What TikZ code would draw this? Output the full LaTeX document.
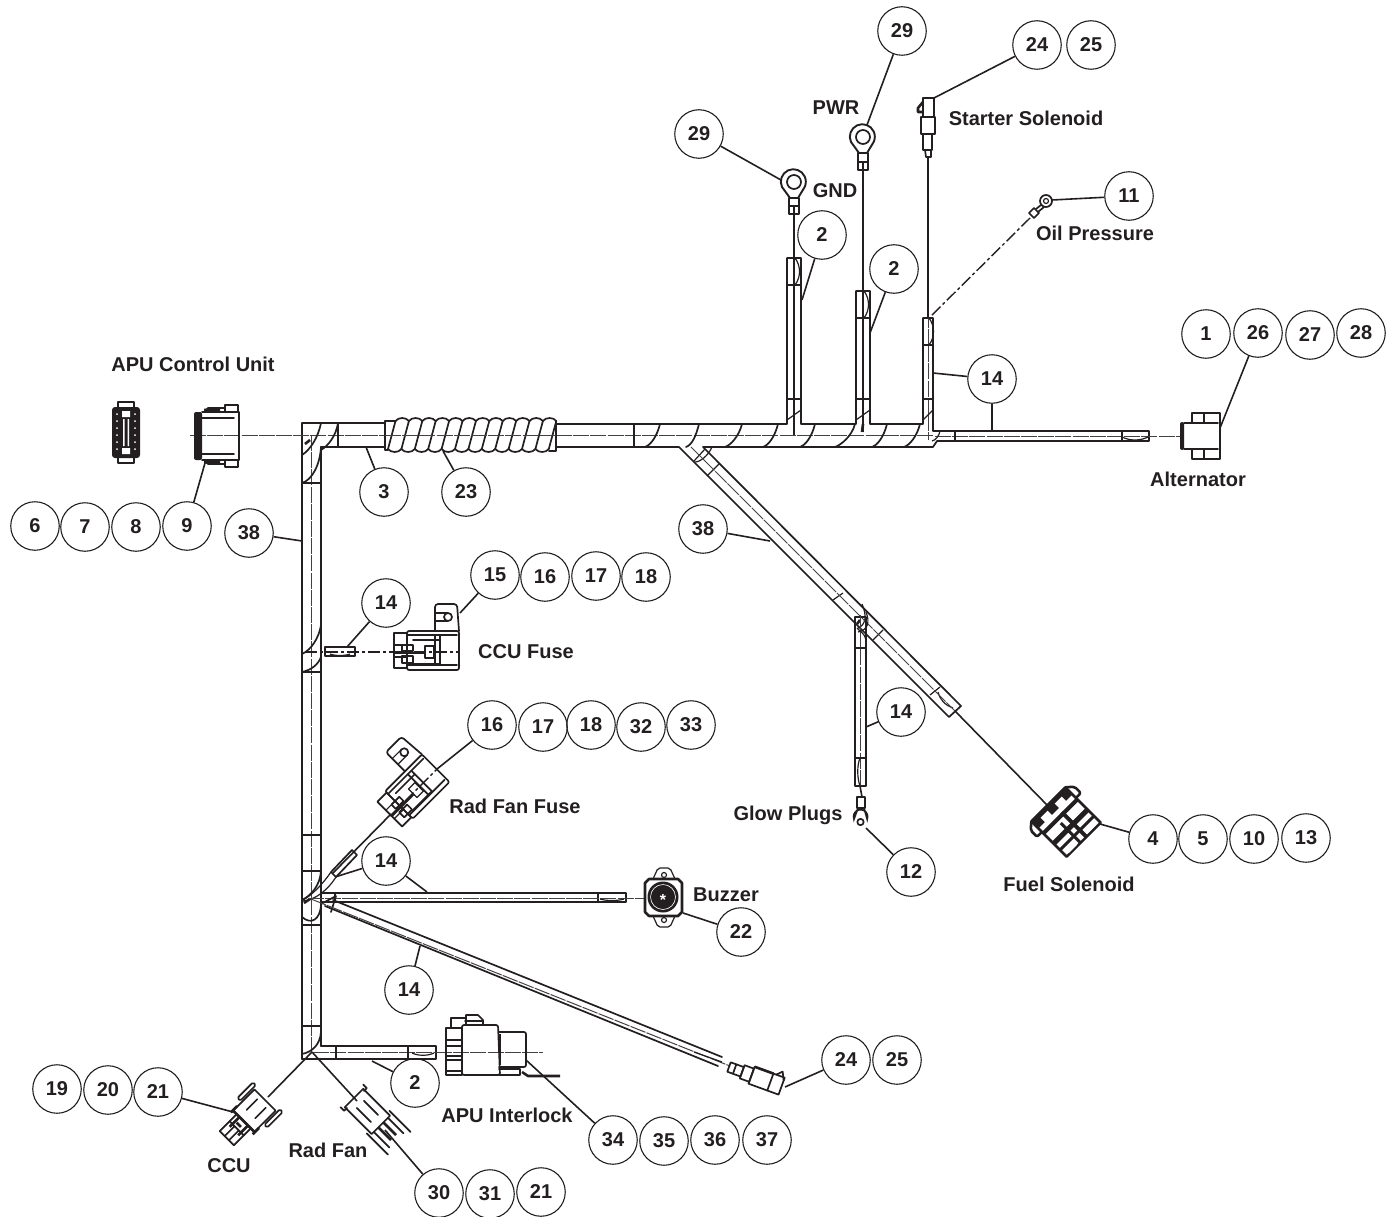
\documentclass[tikz,border=0pt]{standalone}
\usepackage{fontspec}
\setmainfont{Liberation Sans}
\definecolor{ink}{HTML}{231F20}
\tikzset{
  hw/.style={line width=1.7pt,draw=ink,line cap=round,line join=round},
  hh/.style={line width=2.6pt,draw=ink,line join=round},
  thin/.style={line width=1.2pt,draw=ink,line join=round},
  wire/.style={line width=1pt,draw=ink!85,dash pattern=on 16pt off 1.2pt},
  dashw/.style={line width=1.4pt,draw=ink,dash pattern=on 12pt off 3pt on 3pt off 3pt},
  balloon/.style={circle,draw=ink,line width=1.1pt,minimum size=48.5pt,inner sep=0pt,text=ink,font=\fontsize{20}{24}\selectfont\bfseries},
  lab/.style={text=ink,inner sep=0pt,font=\fontsize{20}{24}\selectfont\bfseries},
  lead/.style={line width=1.6pt,draw=ink},
  pics/relayshape/.style={code={
    \draw[hw,rounded corners=2pt] (0,-21) rectangle (52,18);
    \draw[hw] (0,-17) -- (50,-17) (0,13) -- (50,13);
    \draw[hw] (-13,-19) rectangle (0,16);
    \draw[thin] (-13,-7) -- (0,-7) (-13,5) -- (0,5);
    \draw[hw,rounded corners=3pt] (28,-21) -- (28,-48) -- (50,-48) -- (52,-21);
    \draw[hw] (41,-35) circle (4);
    \draw[thin] (28,-39) -- (41,-39) (28,-31) -- (41,-31);
    \draw[hw] (-5,-7) rectangle (6,-1) (-5,4) rectangle (6,11);
    \draw[hw] (6,-12) -- (33,-12) (6,12) -- (33,12);
    \draw[hh] (-13,1) -- (18,1);
    \draw[thin] (18,-6) rectangle (27,6);
    \draw[hw] (28,-17) -- (28,13) (33,-17) -- (33,13);
    \draw[dashw] (-14,0) -- (52,0);
  }}
}
\newcommand\bal[3]{\node[balloon] (#1) at (#2) {#3};}
\newcommand\ldr[2]{\coordinate (#1t) at (#2); \draw[lead] (#1) -- (#1t);}
\newcommand\txt[3]{\node[lab] (#1) at (#2) {#3};}
\begin{document}
\begin{tikzpicture}[x=1pt,y=-1pt]
\useasboundingbox (0,0) rectangle (1389,1217);
% ---- main trunk
\draw[hw] (302,1059) -- (302,423) -- (385,423);
\draw[hw] (321,1046) -- (321,447) -- (385,447);
\draw[hw] (302,1059) -- (436,1059) -- (436,1046) -- (321,1046);
\draw[hw] (556,424) -- (787,424) -- (787,258) -- (801,258) -- (801,424) -- (856,424) -- (856,291) -- (870,291) -- (870,424) -- (923,424) -- (923,318) -- (933,318) -- (933,431) -- (1149,431) -- (1149,441) -- (937,441) -- (933,447) -- (703,447) -- (961,706) -- (949,717) -- (679,447) -- (556,447);
\draw[wire] (190,435) -- (385,435);
\draw[wire] (556,435) -- (933,435);
\draw[wire] (311,435) -- (311,1052) -- (436,1052);
\draw[wire] (935,436) -- (1180,436);
\draw[lead] (794,213) -- (794,435);
\draw[lead] (863,170) -- (863,432);
\draw[wire] (928,157) -- (928,440);
\draw[line width=1.3pt,draw=ink] (928,157) -- (928,318);
\draw[hh] (305,444) -- (310,440) (860,620) -- (857,624) (304,903) -- (310,899) (863,424) -- (862,432);
% trunk ties and curves
\foreach \y in {483,672,835,871,925,1026} \draw[hw] (302,\y) -- (321,\y);
\draw[hw] (338,423) -- (338,447);
\draw[hw] (321,423) .. controls (318,438) and (310,450) .. (302,455);
\draw[hw] (338,423) .. controls (336,436) and (328,446) .. (321,450);
\draw[hw] (321,447) .. controls (320,465) and (312,480) .. (302,483);
\draw[hw] (321,625) .. controls (319,638) and (311,650) .. (302,654);
\draw[hw] (321,657) .. controls (318,665) and (311,670) .. (302,672);
\draw[hw] (321,905) .. controls (320,920) and (311,925) .. (302,917);
\draw[hw] (321,871) .. controls (320,885) and (312,895) .. (302,900);
\draw[hw] (321,1032) .. controls (320,1045) and (312,1052) .. (302,1054);
\draw[hw] (634,424) -- (634,447);
\foreach \a/\b in {660/645,699/686,742/725,778/763,815/800,855/835,887/872,920/904} \draw[hw] (\a,424) .. controls (\a-3,436) and (\b+6,445) .. (\b,447);
% branch ties
\foreach \l/\r/\t in {787/801/285,856/870/318,923/933/345} {
  \draw[thin] (\l,\t) -- (\r,\t);
  \draw[thin] (\l,399) -- (\r,399);
  \draw[thin] (\r,410) -- (\l,420);
}
\foreach \m/\t in {795/258,864/291,929/318} \draw[thin] (\m,\t) .. controls (\m+6,\t+8) and (\m+6,\t+19) .. (\m,\t+27);
\draw[thin] (955,431) -- (955,441) (1122,431) -- (1122,441);
\draw[thin] (1122,437) .. controls (1130,441) and (1140,441) .. (1148,437);
\draw[thin] (940,431) .. controls (939,436) and (936,440) .. (932,441);
% spiral wrap
\foreach \i in {0,...,12} {
  \pgfmathsetmacro\xa{388+\i*13.4}
  \pgfmathsetmacro\xb{\xa+7.5}
  \draw[hw] (\xa,449) -- (\xb,421);
}
\foreach \i in {0,...,11} {
  \pgfmathsetmacro\xa{388+\i*13.4}
  \pgfmathsetmacro\xb{\xa+7.5}
  \draw[hw] (\xb,421) .. controls (\xb+3,417) and (\xb+10.4,417) .. (\xb+13.4,421);
  \draw[hw] (\xa,449) .. controls (\xa+3,453) and (\xa+10.4,453) .. (\xa+13.4,449);
}
\draw[hw] (395.5,421) -- (385,421) -- (385,450) -- (388,450);
\draw[hw] (556,421) -- (556,451) -- (549,451);
\draw[wire] (385,435) -- (556,435);
% diagonal ties
\draw[thin] (705,449) -- (694,461) (719,464) -- (707,476);
\draw[thin] (843,593) -- (833,600) (883,630) -- (873,640) (940,687) -- (930,695);
\draw[thin] (712,447) .. controls (708,456) and (700,462) .. (695,462);
\draw[thin] (862,604) .. controls (867,615) and (866,625) .. (858,628);
\draw[thin] (938,692) .. controls (940,700) and (945,705) .. (953,708);
\draw[wire] (691,447) -- (955,711);
\draw[lead] (955,711) -- (1048,806);
% glow plug branch
\draw[hw] (855,786) rectangle (866,617);
\draw[wire] (860,615) -- (860,786);
\draw[lead] (860,786) -- (862,797);
\draw[thin] (855,648) -- (866,648) (855,758) -- (866,758);
\draw[thin] (860,758) .. controls (857,765) and (857,778) .. (860,786);
\draw[thin] (857,628) .. controls (860,632) and (864,632) .. (866,640);
\draw[thin] (866,612) .. controls (870,622) and (868,630) .. (858,632);
\draw[hw] (857,797) rectangle (865,808);
\draw[line width=1.7pt,draw=ink] (858,808) -- (854,819) arc (160:380:7) -- (864,808);
\draw[hw] (860.5,822) circle (3.2);
% CCU Fuse branch
\draw[hw] (325,647) rectangle (355,656);
\draw[dashw] (305,652) -- (394,652);
\draw[thin] (330,654) .. controls (335,656) and (345,656) .. (350,654);
\pic[transform shape] at (407,652) {relayshape};
% Rad fan fuse branch
\draw[hw] (331,872) -- (352,850) -- (357,855) -- (336,877) -- cycle;
\draw[thin] (303,900) .. controls (312,895) and (322,885) .. (331,872);
\draw[thin] (303,901) .. controls (315,900) and (328,890) .. (336,877);
\draw[lead] (333,873) -- (391,814);
\begin{scope}[shift={(400,806)},rotate=45]
  \pic[transform shape] at (0,0) {relayshape};
\end{scope}
% Buzzer branch
\draw[hw] (321,893) -- (626,893) -- (626,902) -- (321,902);
\draw[hw] (335,893) -- (335,902) (598,893) -- (598,902);
\draw[wire] (308,898) -- (645,898);
\draw[thin] (600,899) .. controls (606,901) and (618,901) .. (624,899);
\draw[hh] (649,879) -- (678,879) -- (682,883) -- (682,912) -- (678,916) -- (649,916) -- (645,912) -- (645,883) -- cycle;
\fill[ink] (663,897) circle (15.5);
\draw[white,line width=.6pt] (663,897) circle (12.5);
\draw[thin,rounded corners=2pt] (653,879) -- (658,868) -- (670,868) -- (675,879);
\draw[thin,rounded corners=2pt] (653,916) -- (658,927) -- (670,927) -- (675,916);
\draw[thin] (664,875) circle (2.5) (664,920) circle (2.5);
\node[inner sep=0pt,text=white,font=\fontsize{16}{16}\selectfont\bfseries] (bstar) at (663,900) {*};
% long diagonal branch
\draw[hw] (333,900) -- (722,1057);
\draw[hw] (325,906) -- (718,1066);
\draw[hw] (321,904) -- (336,896) -- (331,912);
\draw[wire] (311,899) -- (730,1066);
\draw[thin] (694,1052) -- (722,1062);
\begin{scope}[shift={(729,1067)},rotate=-20]
  \draw[hw] (0,-5) rectangle (14,5);
  \draw[hw] (6,-5) -- (6,5);
  \draw[hw] (14,-7) rectangle (24,7);
  \draw[hw] (24,-9) rectangle (56,9);
  \draw[hh] (24,-9) -- (44,-9);
  \draw[hw] (44,-9) -- (44,9);
  \draw[hw] (47,-9) -- (52,-14) -- (56,-6);
\end{scope}
% bottom branch ties and sleeve
\draw[hw] (336,1046) -- (336,1059) (408,1046) -- (408,1059);
\draw[thin] (412,1053) .. controls (418,1056) and (428,1056) .. (434,1053);
% APU Interlock
\draw[wire] (436,1052) -- (543,1052);
\draw[hw] (446,1028) rectangle (462,1075);
\draw[hw] (446,1040) -- (462,1040) (446,1046) -- (462,1046) (446,1056) -- (462,1056) (446,1060) -- (462,1060) (446,1071) -- (462,1071);
\draw[hw,rounded corners=2pt] (462,1075) -- (462,1025) -- (498,1025) -- (500,1075) -- cycle;
\draw[hw,rounded corners=2pt] (499,1032) -- (526,1032) -- (526,1067) -- (499,1067);
\draw[hw] (499,1069) -- (520,1069) -- (520,1075) -- (499,1075);
\draw[hw] (451,1028) -- (451,1018) -- (466,1018) -- (466,1025);
\draw[hw] (466,1020) -- (466,1015) -- (478,1015) -- (483,1020) -- (483,1025);
\draw[hw] (465,1021) -- (483,1021);
\draw[hh] (522,1072) -- (528,1076) -- (560,1076);
\draw[hh] (500,1034) -- (500,1065);
% CCU connector
\draw[lead] (312,1052) -- (268,1097);
\begin{scope}[shift={(265,1100)},rotate=225]
  \draw[hw] (0,-15) -- (30,-15) -- (30,15) -- (0,15) -- cycle;
  \draw[hw,rounded corners=1.5pt] (-4,-21) rectangle (18,-17);
  \draw[hw,rounded corners=1.5pt] (-4,21) rectangle (18,17);
  \draw[hw] (5,-6) -- (20,-6) (5,6) -- (20,6);
  \draw[hh] (30,-15) -- (30,15) (24,-15.5) -- (33,-15.5) (24,15.5) -- (33,15.5);
  \draw[hw] (30,-10) rectangle (54,10);
  \draw[hw] (40,-10) -- (40,10) (54,-3) -- (40,-3) (54,3) -- (40,3);
  \draw[hh] (30,-6) -- (44,-6) (30,6) -- (44,6) (36,-2) -- (36,4);
\end{scope}
% Rad Fan connector
\draw[lead] (312,1052) -- (357,1101);
\begin{scope}[shift={(354,1098)},rotate=-45]
  \draw[hw] (0,-13) -- (38,-13) -- (38,13) -- (0,13) -- cycle;
  \draw[hw] (-3,-16) -- (2,-16) -- (2,-12) (-3,16) -- (2,16) -- (2,12);
  \draw[hw] (9,-5) -- (29,-5) (9,5) -- (29,5);
  \draw[hw] (34,-16) -- (64,-16) (34,16) -- (64,16);
  \draw[hw] (38,-10) -- (60,-10) (38,10) -- (60,10);
  \draw[hh] (38,-3.5) -- (56,-3.5) (38,3.5) -- (56,3.5);
\end{scope}
% APU control unit
\draw[hw] (118,407) -- (118,402) -- (134,402) -- (134,407) (118,458) -- (118,463) -- (134,463) -- (134,458);
\fill[ink,rounded corners=3pt] (112,407) rectangle (140,458);
\foreach \y in {414,421,428,435,442,449} {
  \fill[white] (117,\y) circle (1);
  \fill[white] (135,\y) circle (1);
}
\fill[white] (122,411) rectangle (130,417) (122,448) rectangle (130,454);
\fill[white] (123,419) rectangle (124.5,446) (127.5,419) rectangle (129,446);
\fill[ink,rounded corners=2pt] (194,412) rectangle (202,460);
\draw[hw] (202,412) -- (239,412) -- (239,460) -- (202,460);
\draw[hw] (202,418) -- (234,418) (202,454) -- (234,454);
\draw[hw] (204,412) -- (208,408) -- (225,408) -- (225,412) (204,460) -- (208,464) -- (225,464) -- (225,460);
\fill[ink] (204,408.5) rectangle (220,412) (204,460) rectangle (220,463.5);
\draw[hw] (225,405) rectangle (238,412) (225,460) rectangle (238,467);
% Alternator
\fill[ink,rounded corners=2pt] (1180,422) rectangle (1184,450);
\draw[hw] (1184,423) -- (1192,423) -- (1192,413) -- (1220,413) -- (1220,459) -- (1192,459) -- (1192,449) -- (1184,449);
\draw[hw] (1192,423) -- (1218,423) (1192,449) -- (1218,449) (1204,413) -- (1204,423) (1204,449) -- (1204,459);
% GND and PWR terminals
\draw[line width=1.9pt,draw=ink] (790,198) -- (782,187) arc (155:385:12.5) -- (798,198) -- cycle;
\draw[hw] (794,182) circle (7);
\draw[hw] (789,198) rectangle (799,214) (789,206) -- (799,206) (794,206) -- (794,214);
\draw[line width=1.9pt,draw=ink] (859,153) -- (851,142) arc (155:385:12.5) -- (867,153) -- cycle;
\draw[hw] (863,137) circle (7);
\draw[hw] (858,153) rectangle (868,170) (858,162) -- (868,162) (863,162) -- (863,170);
% Starter solenoid
\draw[hw] (923,98) rectangle (934,117);
\draw[hh] (921,117) rectangle (935,134);
\draw[hw] (923,134) -- (923,150) -- (932,150) -- (932,134);
\draw[hw] (925,150) -- (926,157) -- (931,157) -- (931,150);
\draw[hh] (923,102) -- (918,108) -- (918,112) -- (923,112);
% Oil pressure terminal
\draw[hw] (1046,201) circle (6);
\draw[thin] (1046,201) circle (2.5);
\draw[hw] (1029,213) -- (1034,208) -- (1039,213) -- (1034,218) -- cycle;
\draw[hw] (1036,209) -- (1041,205) (1038,212) -- (1044,207);
\draw[dashw] (1030,218) -- (930,317);
% Fuel solenoid
\begin{scope}[shift={(1066,822)},rotate=-45]
  \draw[hh] (-25,-24) rectangle (25,24);
  \fill[ink] (-25,-24) rectangle (-15,24);
  \fill[white] (-21,-15) rectangle (-13,-5) (-21,5) rectangle (-13,15);
  \fill[ink] (-10,-24) rectangle (-6,24) (4,-24) rectangle (9,24) (14,-24) rectangle (17,24);
  \fill[ink] (-10,-6) rectangle (25,-2);
  \fill[white] (-4,-19) rectangle (3,-9) (-4,6) rectangle (2,19) (10,-20) rectangle (13,-8);
  \fill[ink] (-3,3) rectangle (25,6);
  \fill[white] (18,-18) rectangle (23,-8) (18,8) rectangle (24,20);
  \draw[hh,rounded corners=2pt] (-25,-24) -- (-19,-31) -- (-10,-31) -- (-10,-24);
  \draw[hh,rounded corners=2pt] (-25,24) -- (-19,31) -- (-10,31) -- (-10,24);
\end{scope}
% ---- balloons
\bal{b6}{35,526}{6}\bal{b7}{85,527}{7}\bal{b8}{136,527}{8}\bal{b9}{187,526}{9}
\bal{b38a}{249,533}{38}\bal{b3}{384,492}{3}\bal{b23}{466,492}{23}
\bal{b2a}{822,235}{2}\bal{b2b}{894,269}{2}
\bal{b29a}{699,134}{29}\bal{b29b}{902,31}{29}
\bal{b24a}{1037,45}{24}\bal{b25a}{1091,45}{25}\bal{b11}{1129,196}{11}\bal{b14a}{992,379}{14}
\bal{b1}{1206,334}{1}\bal{b26}{1258,333}{26}\bal{b27}{1310,335}{27}\bal{b28}{1361,333}{28}
\bal{b38b}{703,529}{38}
\bal{b15}{495,575}{15}\bal{b16a}{545,577}{16}\bal{b17a}{596,576}{17}\bal{b18a}{646,577}{18}
\bal{b14b}{386,603}{14}
\bal{b16b}{492,725}{16}\bal{b17b}{543,727}{17}\bal{b18b}{591,725}{18}\bal{b32}{641,727}{32}\bal{b33}{691,725}{33}
\bal{b14c}{901,712}{14}\bal{b14d}{386,861}{14}\bal{b22}{741,932}{22}\bal{b12}{911,872}{12}
\bal{b4}{1153,839}{4}\bal{b5}{1203,839}{5}\bal{b10}{1254,839}{10}\bal{b13}{1306,838}{13}
\bal{b14e}{409,990}{14}
\bal{b24b}{846,1060}{24}\bal{b25b}{897,1060}{25}\bal{b2c}{415,1083}{2}
\bal{b19}{57,1089}{19}\bal{b20}{108,1090}{20}\bal{b21a}{158,1092}{21}
\bal{b34}{613,1140}{34}\bal{b35}{664,1141}{35}\bal{b36}{715,1140}{36}\bal{b37}{767,1140}{37}
\bal{b30}{439,1193}{30}\bal{b31}{490,1194}{31}\bal{b21b}{541,1192}{21}
% ---- leaders
\ldr{b9}{205,463}
\ldr{b38a}{302,541}
\ldr{b3}{366,447}
\ldr{b23}{443,451}
\ldr{b2a}{802,300}
\ldr{b2b}{870,333}
\ldr{b29a}{781,180}
\ldr{b29b}{867,125}
\ldr{b24a}{934,98}
\ldr{b11}{1052,200}
\ldr{b14a}{933,373}
\coordinate (b14at2) at (992,431); \draw[lead] (b14a) -- (b14at2);
\ldr{b26}{1220,428}
\ldr{b38b}{770,541}
\ldr{b15}{460,613}
\ldr{b14b}{347,647}
\ldr{b16b}{437,769}
\ldr{b14c}{866,727}
\ldr{b14d}{335,877}
\coordinate (b14dt2) at (427,892); \draw[lead] (b14d) -- (b14dt2);
\ldr{b14e}{420,946}
\ldr{b22}{683,913}
\ldr{b12}{866,828}
\ldr{b4}{1100,824}
\ldr{b24b}{785,1087}
\ldr{b2c}{372,1061}
\ldr{b21a}{233,1112}
\ldr{b34}{526,1060}
\ldr{b30}{385,1130}
% ---- labels
\txt{tApu}{193,364}{APU Control Unit}
\txt{tSt}{1026,118}{Starter Solenoid}
\txt{tPwr}{836,108}{PWR}
\txt{tGnd}{835,191}{GND}
\txt{tOil}{1095,233}{Oil Pressure}
\txt{tAlt}{1198,479}{Alternator}
\txt{tCf}{526,652}{CCU Fuse}
\txt{tRf}{515,806}{Rad Fan Fuse}
\txt{tGp}{788,815}{Glow Plugs}
\txt{tBz}{726,895}{Buzzer}
\txt{tFs}{1069,884}{Fuel Solenoid}
\txt{tAi}{507,1115}{APU Interlock}
\txt{tCcu}{229,1166}{CCU}
\txt{tRad}{328,1150}{Rad Fan}
\end{tikzpicture}
\end{document}
